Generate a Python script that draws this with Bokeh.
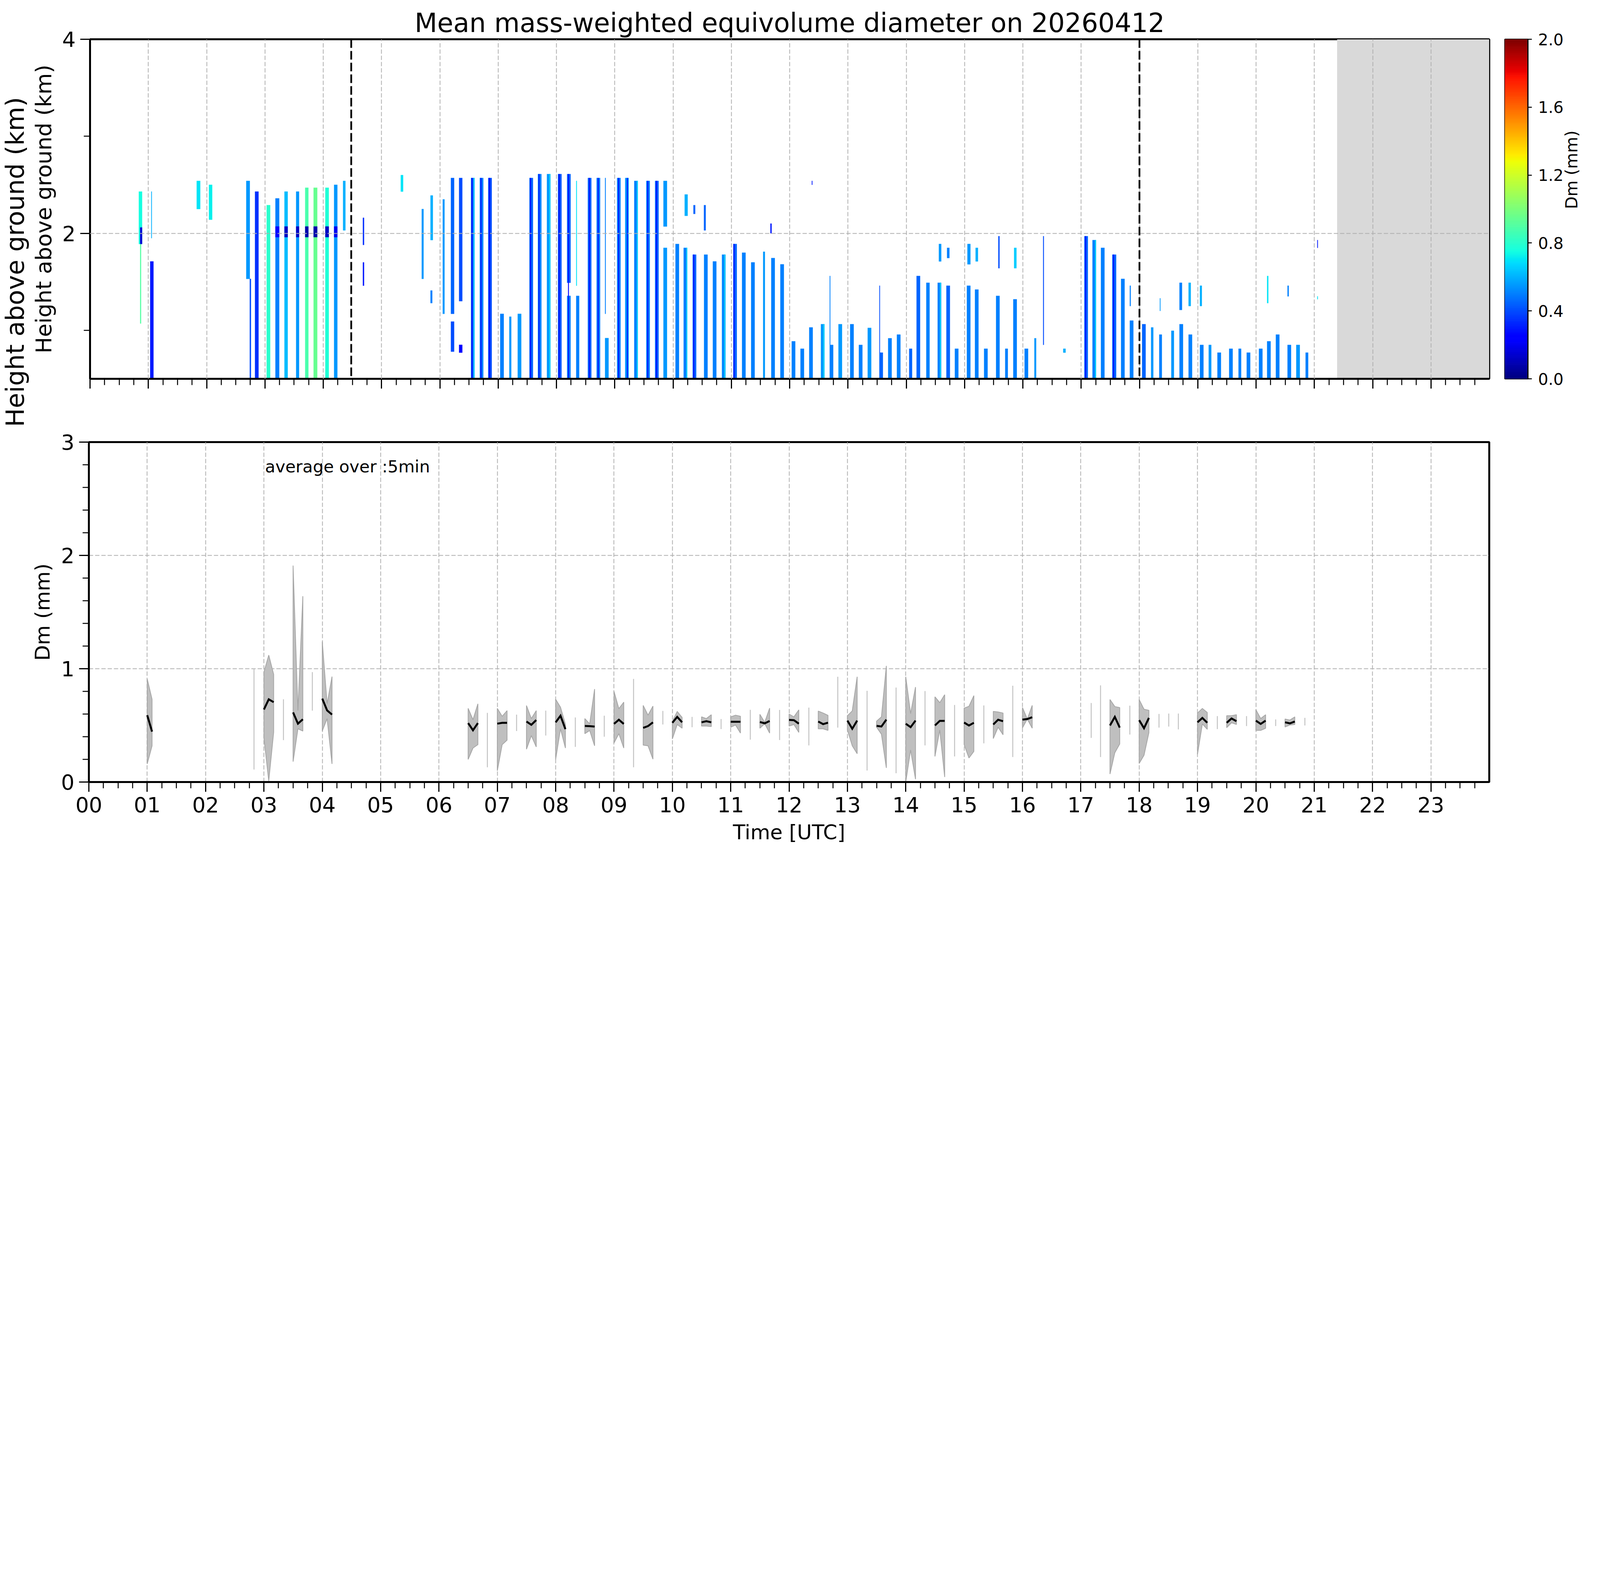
import math

import numpy as np
from bokeh.core.properties import value
from bokeh.embed import file_html
from bokeh.layouts import column, row
from bokeh.models import (ColumnDataSource, FixedTicker, Label, LinearColorMapper,
                          PrintfTickFormatter, Range1d, Span)
from bokeh.plotting import figure
from bokeh.resources import INLINE

FONT = "DejaVu Sans"
TITLE = "Mean mass-weighted equivolume diameter on 20260412"

# Top panel: columns of Dm (mm) by time (hour UTC) and height (km)
st_t0 = [0.837, 1.032, 1.830, 2.040, 2.680, 2.830, 3.030, 3.180, 3.335, 3.535,
         3.690, 3.835, 4.036, 4.186, 4.340, 5.330, 5.840, 6.190, 6.330, 6.535,
         6.685, 6.830, 7.036, 7.192, 7.336, 7.537, 7.682, 7.837, 8.027, 8.183,
         8.183, 8.339, 8.539, 8.689, 8.834, 9.040, 9.179, 9.335, 9.541, 9.692,
         9.836, 9.836, 10.042, 10.182, 10.337, 10.532, 10.683, 10.839, 11.033, 11.184,
         11.340, 11.546, 11.685, 11.841, 12.036, 12.186, 12.336, 12.537, 12.687, 12.838,
         13.038, 13.188, 13.339, 13.539, 13.690, 13.840, 14.051, 14.177, 14.344, 14.539,
         14.689, 14.834, 15.040, 15.179, 15.335, 15.541, 15.697, 15.836, 16.030, 16.198,
         17.055, 17.195, 17.340, 17.534, 17.685, 17.835, 18.046, 18.200, 18.340, 18.547,
         18.687, 18.843, 19.038, 19.188, 19.338, 19.539, 19.700, 19.840, 20.050, 20.190,
         20.340, 20.540, 20.690, 20.850]
st_t1 = [0.893, 1.088, 1.890, 2.095, 2.740, 2.890, 3.090, 3.245, 3.390, 3.585,
         3.745, 3.897, 4.095, 4.242, 4.380, 5.370, 5.880, 6.245, 6.385, 6.595,
         6.745, 6.890, 7.096, 7.225, 7.396, 7.597, 7.742, 7.897, 8.087, 8.243,
         8.243, 8.390, 8.599, 8.749, 8.894, 9.100, 9.239, 9.395, 9.601, 9.752,
         9.896, 9.896, 10.102, 10.242, 10.397, 10.592, 10.743, 10.899, 11.093, 11.244,
         11.400, 11.575, 11.745, 11.901, 12.096, 12.246, 12.396, 12.597, 12.747, 12.898,
         13.098, 13.248, 13.399, 13.599, 13.750, 13.900, 14.100, 14.237, 14.400, 14.599,
         14.749, 14.894, 15.100, 15.239, 15.395, 15.601, 15.742, 15.896, 16.090, 16.228,
         17.115, 17.255, 17.400, 17.600, 17.745, 17.895, 18.106, 18.237, 18.384, 18.591,
         18.747, 18.903, 19.098, 19.232, 19.398, 19.599, 19.744, 19.900, 20.110, 20.250,
         20.400, 20.600, 20.750, 20.894]
st_bot = [1.89, 0.51, 2.25, 2.14, 1.53, 0.51, 0.51, 0.51, 0.51, 0.51,
          0.51, 0.51, 0.51, 0.51, 2.03, 2.43, 1.93, 1.17, 1.30, 0.51,
          0.51, 0.51, 0.51, 0.51, 0.51, 0.51, 0.51, 0.51, 0.51, 1.49,
          0.51, 0.51, 0.51, 0.51, 0.51, 0.51, 0.51, 0.51, 0.51, 0.51,
          2.07, 0.51, 0.51, 0.51, 0.51, 0.51, 0.51, 0.51, 0.51, 0.51,
          0.51, 0.51, 0.51, 0.51, 0.51, 0.51, 0.51, 0.51, 0.51, 0.51,
          0.51, 0.51, 0.51, 0.51, 0.51, 0.51, 0.51, 0.51, 0.51, 0.51,
          0.51, 0.51, 0.51, 0.51, 0.51, 0.51, 0.51, 0.51, 0.51, 0.51,
          0.51, 0.51, 0.51, 0.51, 0.51, 0.51, 0.51, 0.51, 0.51, 0.51,
          0.51, 0.51, 0.51, 0.51, 0.51, 0.51, 0.51, 0.51, 0.51, 0.51,
          0.51, 0.51, 0.51, 0.51]
st_top = [2.43, 1.71, 2.54, 2.50, 2.54, 2.43, 2.29, 2.36, 2.43, 2.43,
          2.47, 2.47, 2.47, 2.50, 2.54, 2.60, 2.39, 2.57, 2.57, 2.57,
          2.57, 2.57, 1.17, 1.14, 1.17, 2.57, 2.61, 2.61, 2.61, 2.61,
          1.355, 1.355, 2.57, 2.57, 0.92, 2.57, 2.57, 2.54, 2.54, 2.54,
          2.54, 1.85, 1.89, 1.85, 1.78, 1.78, 1.71, 1.78, 1.89, 1.80,
          1.70, 1.81, 1.745, 1.68, 0.887, 0.81, 1.03, 1.063, 0.849, 1.063,
          1.063, 0.849, 1.025, 0.77, 0.918, 0.956, 0.81, 1.56, 1.49, 1.49,
          1.46, 0.81, 1.46, 1.42, 0.81, 1.355, 0.81, 1.32, 0.81, 0.918,
          1.97, 1.93, 1.85, 1.78, 1.53, 1.10, 1.063, 1.03, 0.956, 0.995,
          1.063, 0.956, 0.849, 0.849, 0.77, 0.81, 0.81, 0.77, 0.81, 0.887,
          0.956, 0.849, 0.849, 0.77]
st_dm = [0.75, 0.30, 0.70, 0.72, 0.55, 0.35, 0.80, 0.50, 0.62, 0.55,
         0.88, 0.95, 0.78, 0.55, 0.60, 0.70, 0.60, 0.45, 0.40, 0.45,
         0.50, 0.40, 0.50, 0.55, 0.55, 0.45, 0.50, 0.55, 0.42, 0.45,
         0.50, 0.50, 0.45, 0.50, 0.55, 0.50, 0.55, 0.50, 0.50, 0.45,
         0.55, 0.55, 0.50, 0.50, 0.45, 0.50, 0.50, 0.52, 0.45, 0.50,
         0.50, 0.55, 0.50, 0.50, 0.50, 0.50, 0.50, 0.55, 0.50, 0.55,
         0.50, 0.50, 0.55, 0.45, 0.50, 0.50, 0.45, 0.45, 0.50, 0.50,
         0.45, 0.50, 0.50, 0.50, 0.50, 0.50, 0.50, 0.50, 0.50, 0.55,
         0.45, 0.50, 0.50, 0.45, 0.50, 0.50, 0.45, 0.55, 0.50, 0.55,
         0.50, 0.50, 0.50, 0.55, 0.50, 0.50, 0.50, 0.50, 0.50, 0.50,
         0.50, 0.50, 0.55, 0.50]

# smaller patches: dark band near 2 km, isolated echoes, thin dark / light lines in columns
fr_t0 = [3.180, 3.335, 3.535, 3.690, 3.835, 4.036, 4.186, 0.860, 0.860, 1.050,
         2.740, 4.680, 4.680, 5.690, 5.840, 6.050, 6.190, 6.330, 8.339, 8.834,
         10.200, 10.350, 10.530, 11.670, 12.380, 12.687, 13.539, 14.560, 14.700, 15.050,
         15.190, 15.580, 15.850, 16.348, 16.693, 17.835, 18.350, 18.687, 18.843, 19.038,
         20.190, 20.540, 21.050, 21.050,
         6.545, 6.700, 6.845, 7.550, 7.695, 8.040, 8.200, 8.560, 8.710, 9.060,
         9.210, 9.560, 9.710, 10.350, 11.040, 17.070, 17.550,
         6.580, 7.880, 9.380, 10.230, 10.880, 12.580, 14.580, 17.240]
fr_t1 = [3.245, 3.390, 3.585, 3.745, 3.897, 4.095, 4.242, 0.875, 0.893, 1.060,
         2.760, 4.700, 4.700, 5.720, 5.870, 6.080, 6.245, 6.385, 8.350, 8.845,
         10.250, 10.380, 10.560, 11.690, 12.390, 12.697, 13.549, 14.600, 14.740, 15.100,
         15.230, 15.600, 15.890, 16.360, 16.733, 17.850, 18.360, 18.730, 18.880, 19.070,
         20.210, 20.560, 21.060, 21.060,
         6.557, 6.712, 6.857, 7.562, 7.707, 8.052, 8.212, 8.572, 8.722, 9.072,
         9.222, 9.572, 9.722, 10.362, 11.052, 17.082, 17.562,
         6.592, 7.892, 9.392, 10.242, 10.892, 12.592, 14.592, 17.252]
fr_bot = [1.96, 1.96, 1.96, 1.96, 1.96, 1.96, 1.96, 1.07, 1.89, 1.95,
          0.51, 1.46, 1.88, 1.53, 1.28, 1.17, 0.78, 0.77, 1.46, 1.17,
          2.18, 2.20, 2.03, 2.00, 2.50, 0.85, 0.77, 1.71, 1.745, 1.68,
          1.71, 1.64, 1.64, 0.85, 0.77, 1.25, 1.20, 1.21, 1.25, 1.25,
          1.28, 1.35, 1.32, 1.85,
          0.51, 0.51, 0.51, 0.51, 0.51, 0.51, 0.51, 0.51, 0.51, 0.51,
          0.51, 0.51, 0.51, 0.51, 0.51, 0.51, 0.51,
          0.51, 0.51, 0.51, 0.51, 0.51, 0.51, 0.51, 0.51]
fr_top = [2.07, 2.07, 2.07, 2.07, 2.07, 2.07, 2.07, 1.89, 2.06, 2.43,
          1.53, 1.70, 2.16, 2.25, 1.41, 2.35, 1.09, 0.85, 2.54, 2.57,
          2.40, 2.29, 2.29, 2.10, 2.54, 1.56, 1.46, 1.89, 1.85, 1.89,
          1.85, 1.97, 1.85, 1.97, 0.81, 1.46, 1.33, 1.49, 1.49, 1.46,
          1.56, 1.46, 1.35, 1.93,
          2.57, 2.57, 2.57, 2.57, 2.61, 2.61, 2.61, 2.57, 2.57, 2.57,
          2.57, 2.54, 2.54, 1.78, 1.89, 1.97, 1.78,
          2.57, 2.61, 2.54, 1.85, 1.78, 1.063, 1.49, 1.93]
fr_dm = [0.25, 0.12, 0.12, 0.08, 0.08, 0.12, 0.20, 0.90, 0.15, 0.60,
         0.40, 0.30, 0.35, 0.55, 0.50, 0.55, 0.40, 0.25, 0.70, 0.50,
         0.60, 0.45, 0.45, 0.30, 0.30, 0.50, 0.40, 0.55, 0.50, 0.55,
         0.60, 0.40, 0.65, 0.40, 0.60, 0.50, 0.55, 0.50, 0.60, 0.60,
         0.70, 0.50, 0.70, 0.30,
         0.22, 0.22, 0.25, 0.22, 0.25, 0.20, 0.22, 0.25, 0.22, 0.25,
         0.22, 0.22, 0.25, 0.25, 0.25, 0.22, 0.25,
         0.70, 0.70, 0.70, 0.70, 0.70, 0.70, 0.70, 0.70]

NODATA_START = 21.39
MARK_LINES = [4.48, 18.0]

# Bottom panel: 5-min averages of Dm (mm), with min/max envelope
dm_t = [1.0, 1.083,
        3.0, 3.083, 3.167, 3.5, 3.583, 3.667, 4.0, 4.083, 4.167,
        6.5, 6.583, 6.667, 7.0, 7.083, 7.167, 7.5, 7.583, 7.667,
        8.0, 8.083, 8.167, 8.5, 8.583, 8.667, 9.0, 9.083, 9.167,
        9.5, 9.583, 9.667, 10.0, 10.083, 10.167, 10.5, 10.583, 10.667,
        11.0, 11.083, 11.167, 11.5, 11.583, 11.667, 12.0, 12.083, 12.167,
        12.5, 12.583, 12.667, 13.0, 13.083, 13.167, 13.5, 13.583, 13.667,
        14.0, 14.083, 14.167, 14.5, 14.583, 14.667, 15.0, 15.083, 15.167,
        15.5, 15.583, 15.667, 16.0, 16.083, 16.167,
        17.5, 17.583, 17.667, 18.0, 18.083, 18.167,
        19.0, 19.083, 19.167, 19.5, 19.583, 19.667, 20.0, 20.083, 20.167,
        20.5, 20.583, 20.667]
dm_mean = [0.59, 0.445,
           0.64, 0.73, 0.705, 0.615, 0.515, 0.554, 0.736, 0.632, 0.595,
           0.52, 0.457, 0.52, 0.515, 0.522, 0.522, 0.534, 0.505, 0.547,
           0.527, 0.585, 0.467, 0.495, 0.493, 0.49, 0.513, 0.55, 0.513,
           0.478, 0.494, 0.527, 0.523, 0.575, 0.527, 0.527, 0.537, 0.527,
           0.532, 0.532, 0.532, 0.53, 0.518, 0.539, 0.548, 0.546, 0.515,
           0.534, 0.511, 0.524, 0.542, 0.47, 0.542, 0.496, 0.49, 0.551,
           0.515, 0.484, 0.542, 0.499, 0.54, 0.54, 0.525, 0.499, 0.523,
           0.508, 0.55, 0.537, 0.551, 0.556, 0.572,
           0.499, 0.575, 0.48, 0.546, 0.475, 0.566,
           0.527, 0.566, 0.523, 0.523, 0.561, 0.537, 0.542, 0.513, 0.542,
           0.527, 0.518, 0.534]
dm_lo = [0.16, 0.32,
         0.39, 0.01, 0.44, 0.18, 0.47, 0.45, 0.45, 0.56, 0.16,
         0.20, 0.30, 0.33, 0.10, 0.33, 0.37, 0.29, 0.41, 0.31,
         0.20, 0.47, 0.30, 0.427, 0.455, 0.32, 0.345, 0.427, 0.30,
         0.326, 0.32, 0.202, 0.38, 0.508, 0.475, 0.494, 0.494, 0.49,
         0.484, 0.503, 0.432, 0.475, 0.515, 0.432, 0.494, 0.508, 0.438,
         0.47, 0.47, 0.456, 0.46, 0.32, 0.25, 0.484, 0.422, 0.125,
         0.0, 0.283, 0.025, 0.226, 0.46, 0.044, 0.331, 0.212, 0.27,
         0.384, 0.484, 0.417, 0.478, 0.556, 0.475,
         0.071, 0.259, 0.336, 0.164, 0.236, 0.436,
         0.245, 0.513, 0.465, 0.48, 0.523, 0.508, 0.456, 0.456, 0.475,
         0.486, 0.503, 0.508]
dm_hi = [0.91, 0.73,
         0.97, 1.12, 0.95, 1.91, 0.63, 1.64, 1.24, 0.69, 0.93,
         0.65, 0.55, 0.69, 0.65, 0.58, 0.63, 0.675, 0.56, 0.63,
         0.73, 0.66, 0.51, 0.56, 0.513, 0.82, 0.80, 0.647, 0.705,
         0.676, 0.59, 0.67, 0.535, 0.623, 0.57, 0.575, 0.56, 0.594,
         0.575, 0.59, 0.58, 0.597, 0.527, 0.652, 0.60, 0.575, 0.637,
         0.626, 0.609, 0.588, 0.585, 0.628, 0.929, 0.537, 0.575, 1.025,
         0.929, 0.604, 0.838, 0.752, 0.70, 0.771, 0.652, 0.668, 0.762,
         0.623, 0.618, 0.609, 0.657, 0.556, 0.676,
         0.728, 0.666, 0.657, 0.728, 0.642, 0.633,
         0.609, 0.649, 0.614, 0.585, 0.585, 0.594, 0.639, 0.56, 0.594,
         0.556, 0.547, 0.575]

# isolated 5-min values (only the envelope shows)
single_t = [2.83, 3.335, 3.83, 6.83, 7.33, 7.83, 8.337, 8.833, 9.335, 9.837,
            10.338, 10.835, 11.336, 11.838, 12.339, 12.835, 13.337, 13.834, 14.33, 14.837,
            15.338, 15.834, 17.178, 17.338, 17.84, 18.34, 18.507, 18.672, 19.34, 19.84,
            20.34, 20.84]
single_lo = [0.11, 0.37, 0.63, 0.13, 0.45, 0.41, 0.31, 0.40, 0.13, 0.508,
             0.484, 0.467, 0.374, 0.371, 0.323, 0.48, 0.102, 0.078, 0.323, 0.226,
             0.341, 0.221, 0.39, 0.221, 0.419, 0.48, 0.49, 0.465, 0.467, 0.494,
             0.494, 0.499]
single_hi = [1.0, 0.73, 0.97, 0.61, 0.595, 0.63, 0.57, 0.585, 0.91, 0.628,
             0.575, 0.556, 0.637, 0.636, 0.657, 0.929, 0.805, 0.834, 0.803, 0.68,
             0.676, 0.85, 0.697, 0.853, 0.674, 0.601, 0.604, 0.604, 0.582, 0.582,
             0.553, 0.566]


def jet(n=256):
    x = np.linspace(0, 1, n)
    r = np.interp(x, [0, 0.35, 0.66, 0.89, 1], [0, 0, 1, 1, 0.5])
    g = np.interp(x, [0, 0.125, 0.375, 0.64, 0.91, 1], [0, 0, 1, 1, 0, 0])
    b = np.interp(x, [0, 0.11, 0.34, 0.65, 1], [0.5, 1, 1, 0, 0])
    return ["#%02x%02x%02x" % (int(255 * a), int(255 * c), int(255 * d)) for a, c, d in zip(r, g, b)]


def style_axes(p, tick_font="54px"):
    for ax in p.axis:
        ax.axis_line_width = 5
        ax.axis_line_color = "black"
        ax.major_tick_line_width = 3
        ax.minor_tick_line_width = 2.5
        ax.major_tick_line_color = "black"
        ax.minor_tick_line_color = "black"
        ax.major_tick_in = 0
        ax.minor_tick_in = 0
        ax.major_tick_out = 25
        ax.minor_tick_out = 16
        ax.major_label_text_font = FONT
        ax.major_label_text_font_size = tick_font
        ax.major_label_text_color = "black"
        ax.major_label_standoff = 14
        ax.axis_label_text_font = FONT
        ax.axis_label_text_font_style = "normal"
        ax.axis_label_text_color = "black"
    p.outline_line_color = "black"
    p.outline_line_width = 5
    p.outline_line_alpha = 1


def style_grid(p):
    p.grid.grid_line_color = "#b0b0b0"
    p.grid.grid_line_dash = "11 5"
    p.grid.grid_line_width = 2


JET = jet()
mapper = LinearColorMapper(palette=JET, low=0, high=2)
hour_ticks = list(range(24))
quarter_ticks = [h + q / 4 for h in range(24) for q in (1, 2, 3)]

# ---- top panel -------------------------------------------------------------
top = figure(width=3758, height=1060, x_range=Range1d(0, 24), y_range=Range1d(0.5, 4),
             output_backend="svg", toolbar_location=None, tools="",
             min_border_left=151, min_border_right=22, min_border_top=100, min_border_bottom=91)
top.title.text = TITLE
top.title.align = "center"
top.title.text_font = FONT
top.title.text_font_size = "67px"
top.title.text_font_style = "normal"
top.title.text_color = "black"
top.title.standoff = 5

top.quad(left=NODATA_START, right=24, bottom=0.5, top=4, fill_color="#d9d9d9", line_color=None)

cmap = {"field": "dm", "transform": mapper}
src_st = ColumnDataSource(dict(t0=st_t0, t1=st_t1, bot=st_bot, top=st_top, dm=st_dm))
top.quad(left="t0", right="t1", bottom="bot", top="top", source=src_st,
         fill_color=cmap, line_color=cmap, line_width=0.5)
src_fr = ColumnDataSource(dict(t0=fr_t0, t1=fr_t1, bot=fr_bot, top=fr_top, dm=fr_dm))
top.quad(left="t0", right="t1", bottom="bot", top="top", source=src_fr,
         fill_color=cmap, line_color=cmap, line_width=0.5)

for loc in MARK_LINES:
    top.add_layout(Span(location=loc, dimension="height", line_color="black",
                        line_dash="22 8", line_width=4.5))

top.xaxis.ticker = FixedTicker(ticks=hour_ticks, minor_ticks=quarter_ticks)
top.yaxis.ticker = FixedTicker(ticks=[2, 4], minor_ticks=[1, 3])
top.yaxis.axis_label = "Height above ground (km)"
style_axes(top)
top.xaxis.major_label_overrides = {h: "" for h in hour_ticks}
top.yaxis.major_label_standoff = 12
top.yaxis.axis_label_text_font_size = "56px"
top.yaxis.axis_label_standoff = 12
style_grid(top)
top.grid.level = "guide"

# ---- colour bar ------------------------------------------------------------
cb = figure(width=241, height=1060, x_range=Range1d(0, 1), y_range=Range1d(0, 2),
            output_backend="svg", toolbar_location=None, tools="",
            x_axis_location=None, y_axis_location="right",
            min_border_left=18, min_border_right=162, min_border_top=100, min_border_bottom=91)
levels = np.linspace(0, 2, len(JET) + 1)
cb.quad(left=0, right=1, bottom=levels[:-1], top=levels[1:], fill_color=JET, line_color=JET)
cb.grid.visible = False
cb.yaxis.ticker = FixedTicker(ticks=[0, 0.4, 0.8, 1.2, 1.6, 2.0])
cb.yaxis.formatter = PrintfTickFormatter(format="%.1f")
cb.yaxis.axis_label = "Dm (mm)"
style_axes(cb, tick_font="41px")
cb.yaxis.major_tick_out = 10
cb.yaxis.major_tick_line_width = 2.5
cb.yaxis.axis_line_width = 3
cb.yaxis.major_label_standoff = 16
cb.yaxis.axis_label_text_font_size = "42px"
cb.yaxis.axis_label_standoff = 18
cb.yaxis.axis_label_orientation = math.pi / 2
cb.outline_line_width = 3

# ---- bottom panel ----------------------------------------------------------
bot = figure(width=3758, height=1110, x_range=Range1d(0, 24), y_range=Range1d(0, 3),
             output_backend="svg", toolbar_location=None, tools="",
             min_border_left=151, min_border_right=22, min_border_top=71, min_border_bottom=169)
style_grid(bot)

# split the 5-min series into runs of consecutive values
runs = [[0]]
for i in range(1, len(dm_t)):
    if dm_t[i] - dm_t[i - 1] > 0.1:
        runs.append([])
    runs[-1].append(i)

band_xs, band_ys, line_xs, line_ys = [], [], [], []
for r in runs:
    t = [dm_t[i] for i in r]
    band_xs.append(t + t[::-1])
    band_ys.append([dm_hi[i] for i in r] + [dm_lo[i] for i in r][::-1])
    line_xs.append(t)
    line_ys.append([dm_mean[i] for i in r])

bot.segment(x0=single_t, y0=single_lo, x1=single_t, y1=single_hi, line_color="#c4c4c4", line_width=2.5)
bot.patches(band_xs, band_ys, fill_color="#bfbfbf", line_color="#a6a6a6", line_width=2)
bot.multi_line(line_xs, line_ys, line_color="black", line_width=5, line_join="miter")

bot.add_layout(Label(x=3.02, y=2.70, text="average over :5min", text_font=FONT,
                     text_font_size="43px", text_color="black", text_baseline="bottom"))

bot.xaxis.ticker = FixedTicker(ticks=hour_ticks, minor_ticks=quarter_ticks)
bot.xaxis.major_label_overrides = {h: "%02d" % h for h in hour_ticks}
bot.xaxis.axis_label = "Time [UTC]"
bot.yaxis.ticker = FixedTicker(ticks=[0, 1, 2, 3], minor_ticks=[i / 5 for i in range(16) if i % 5])
bot.yaxis.axis_label = "Dm (mm)"
style_axes(bot)
bot.xaxis.axis_label_text_font_size = "52px"
bot.xaxis.axis_label_standoff = 18
bot.xaxis.major_label_standoff = 13
bot.yaxis.major_label_standoff = 12
bot.yaxis.axis_label_text_font_size = "52px"
bot.yaxis.axis_label_standoff = 14

# ---- figure-wide y label -----------------------------------------------------
side = figure(width=76, height=2170, x_range=Range1d(0, 76), y_range=Range1d(0, 2170),
              output_backend="svg", toolbar_location=None, tools="",
              x_axis_location=None, y_axis_location=None, min_border=0)
side.outline_line_color = None
side.grid.visible = False
side.text(x=[38], y=[1500], text=["Height above ground (km)"], angle=math.pi / 2,
          text_align="center", text_baseline="middle",
          text_font=value(FONT), text_font_size="64px", text_color="black")

layout = row(side, column(row(top, cb), bot))
open("out.html", "w").write(file_html(layout, INLINE))
